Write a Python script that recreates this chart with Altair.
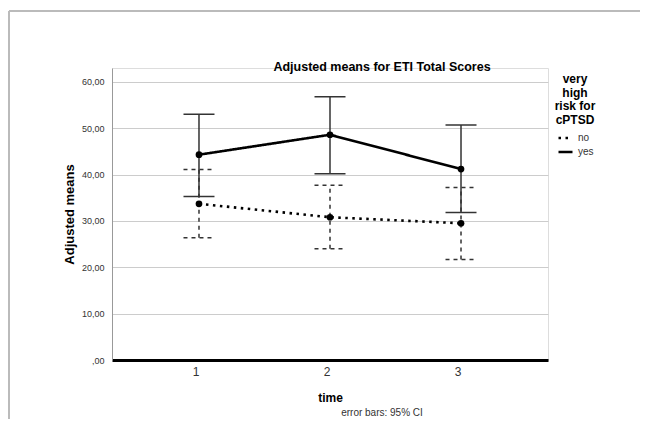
import altair as alt
import pandas as pd

times = ["1", "2", "3"]
groups = ["no", "yes"]
yes_mean = [44.3, 48.6, 41.2]
yes_lower = [35.3, 40.2, 31.8]
yes_upper = [53.0, 56.8, 50.7]
no_mean = [33.7, 30.8, 29.5]
no_lower = [26.4, 24.0, 21.7]
no_upper = [41.1, 37.7, 37.2]
y_ticks = [0, 10, 20, 30, 40, 50, 60]
title_text = "Adjusted means for ETI Total Scores"
footnote_text = "error bars: 95% CI"

rows = []
for g, m, lo, up in [("no", no_mean, no_lower, no_upper), ("yes", yes_mean, yes_lower, yes_upper)]:
    for t, a, b, c in zip(times, m, lo, up):
        rows.append({"time": t, "group": g, "mean": a, "lower": b, "upper": c})
df = pd.DataFrame(rows)

FONT = "Liberation Sans"
W, H = 436, 292

x_enc = alt.X("time:O", scale=alt.Scale(type="point", padding=0.664, domain=times),
              axis=alt.Axis(title="time", labelAngle=0, labelFontSize=12, labelColor="#333",
                            labelFont=FONT, labelPadding=11, ticks=False,
                            domainColor="black", domainWidth=3,
                            titleFont=FONT, titleFontSize=12, titleFontWeight="bold",
                            titleColor="black", titlePadding=15, grid=False))
y_scale = alt.Scale(domain=[0, 63], nice=False)
y_enc = alt.Y("mean:Q", scale=y_scale,
              axis=alt.Axis(title="Adjusted means", values=y_ticks,
                            labelExpr="datum.value == 0 ? ',00' : replace(format(datum.value, '.2f'), '.', ',')",
                            labelFontSize=9, labelColor="#333", labelFont=FONT, labelPadding=8,
                            ticks=False, domainColor="#999", domainWidth=1,
                            grid=True, gridColor="#cccccc", gridWidth=1,
                            titleFont=FONT, titleFontSize=13, titleFontWeight="bold",
                            titleColor="black", titlePadding=5))

base = alt.Chart(df)

lines = base.mark_line(color="black", strokeWidth=2.6).encode(
    x=x_enc, y=y_enc,
    strokeDash=alt.StrokeDash("group:N", scale=alt.Scale(domain=groups, range=[[2.5, 4.5], [1, 0]]),
                              legend=alt.Legend(title=["very", "high", "risk for", "cPTSD"],
                                                orient="none", legendX=443, legendY=6,
                                                titleFont=FONT, titleFontSize=12, titleFontWeight="bold",
                                                titleColor="black", titleAlign="center", titleAnchor="middle",
                                                titleLineHeight=13.5, titlePadding=3,
                                                labelFont=FONT, labelFontSize=10, labelColor="#333",
                                                symbolType="stroke", symbolSize=196, symbolStrokeWidth=2.6,
                                                symbolStrokeColor="black", rowPadding=0, labelOffset=4)),
    detail="group:N",
)

points = base.mark_circle(color="black", size=45, opacity=1).encode(x="time:O", y="mean:Q")

err_yes = base.transform_filter(alt.datum.group == "yes").mark_rule(color="#333", strokeWidth=1.5).encode(
    x="time:O", y="lower:Q", y2="upper:Q")
err_no = base.transform_filter(alt.datum.group == "no").mark_rule(color="#333", strokeWidth=1.5, strokeDash=[4, 4]).encode(
    x="time:O", y="lower:Q", y2="upper:Q")

caps = []
for g, dash in [("yes", [1, 0]), ("no", [4, 4])]:
    for f in ["lower", "upper"]:
        caps.append(base.transform_filter(alt.datum.group == g).mark_rule(
            color="#333", strokeWidth=1.5, strokeDash=dash, xOffset=-15.5, x2Offset=15.5).encode(
            x="time:O", x2="time:O", y=f"{f}:Q"))

frame_top = alt.Chart(df).mark_rule(color="#bbbbbb", strokeWidth=2).encode(
    x=alt.value(-103), x2=alt.value(540), y=alt.value(-57))
frame_left = alt.Chart(df).mark_rule(color="#bbbbbb", strokeWidth=2).encode(
    x=alt.value(-103), y=alt.value(-57), y2=alt.value(360))

title = alt.Chart(pd.DataFrame({"t": [title_text]})).mark_text(
    font=FONT, fontSize=12.5, fontWeight="bold", color="black", align="center", baseline="middle").encode(
    text="t:N", x=alt.value(270), y=alt.value(-1))

footnote = alt.Chart(pd.DataFrame({"t": [footnote_text]})).mark_text(
    font=FONT, fontSize=10, color="#333", align="center", baseline="middle").encode(
    text="t:N", x=alt.value(270), y=alt.value(345))

chart = alt.layer(frame_top, frame_left, err_yes, err_no, *caps, lines, points, title, footnote).properties(
    width=W, height=H,
    autosize=alt.AutoSizeParams(type="none"),
    padding={"left": 104, "top": 60, "right": 92, "bottom": 59},
).configure_view(stroke=None).configure(background="white")

chart.save("out.html", embed_options={"renderer": "svg", "actions": False})
